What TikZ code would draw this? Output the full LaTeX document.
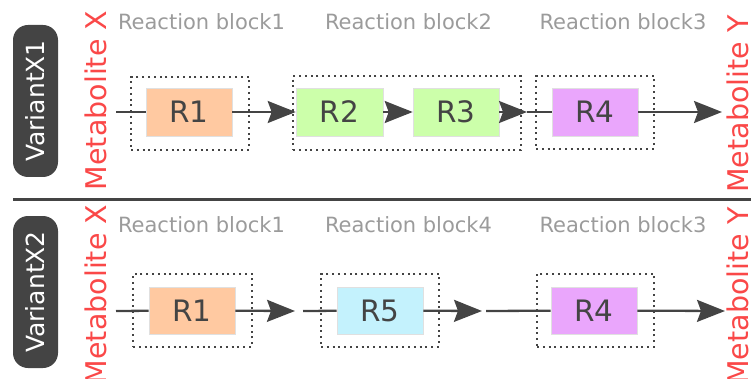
\documentclass[tikz,border=0pt]{standalone}
\usepackage{fontspec}
\setmainfont{DejaVu Sans}
\usetikzlibrary{arrows.meta}
\definecolor{dk}{HTML}{444444}
\definecolor{lbl}{RGB}{155,155,155}
\definecolor{metred}{RGB}{250,72,72}
\definecolor{peach}{RGB}{255,201,161}
\definecolor{lgreen}{RGB}{204,255,170}
\definecolor{violet4}{RGB}{234,166,252}
\definecolor{cyan5}{RGB}{196,242,253}
\tikzset{
  rbox/.style={draw=black!12, line width=0.6pt, minimum width=86pt, minimum height=48pt, inner sep=0pt, font=\fontsize{29.5}{31}\selectfont, text=dk},
  dotbox/.style={draw=dk, line width=2pt, dash pattern=on 2pt off 3.8pt, inner sep=0pt},
  flow/.style={draw=dk, line width=2.3pt},
  arr/.style={flow, -{Stealth[length=28pt,width=22pt,inset=4pt]}},
  blocklbl/.style={text=lbl, font=\fontsize{21}{23}\selectfont, anchor=base, inner sep=0pt},
  metab/.style={text=metred, font=\fontsize{28.5}{30}\selectfont, rotate=90, anchor=base, inner sep=0pt},
  pill/.style={fill=dk, text=white, rounded corners=15pt, rotate=90, minimum width=152pt, minimum height=45pt, inner sep=0pt, font=\fontsize{25}{27}\selectfont},
  sepline/.style={draw=dk, line width=3pt}
}
\begin{document}
\begin{tikzpicture}[x=1pt,y=-1pt]
\useasboundingbox (0,0) rectangle (751,379);

% separator
\coordinate (sepL) at (13,200);
\coordinate (sepR) at (751,200);
\draw[sepline] (sepL) -- (sepR);

% ---------- Variant 1 ----------
\node[pill] (v1) at (35.5,101) {VariantX1};
\node[metab] (mx1) at (106,100.5) {Metabolite X};
\node[metab] (my1) at (748.5,104) {Metabolite Y};

\node[blocklbl] (l11) at (201.5,29.3) {Reaction block1};
\node[blocklbl] (l12) at (408.5,29.3) {Reaction block2};
\node[blocklbl] (l13) at (623,29.3) {Reaction block3};

\node[dotbox, minimum width=118pt, minimum height=73pt] (b11) at (190,113.5) {};
\node[dotbox, minimum width=228pt, minimum height=74pt] (b12) at (407,113) {};
\node[dotbox, minimum width=118pt, minimum height=73pt] (b13) at (595,112.5) {};

\node[rbox, fill=peach] (r11) at (189,112) {R1};
\node[rbox, fill=lgreen, minimum width=87pt] (r12) at (339.5,112) {R2};
\node[rbox, fill=lgreen] (r13) at (456,112) {R3};
\node[rbox, fill=violet4] (r14) at (595,112) {R4};

\coordinate (s1) at (116,112);
\coordinate (t1) at (527,112);
\coordinate (e1) at (722,112);

\draw[flow] (s1) -- (r11);
\draw[arr] (r11) -- (r12);
\draw[arr] (r12) -- (r13);
\draw[arr] (r13) -- (t1);
\draw[flow] (t1) -- (r14);
\draw[arr] (r14) -- (e1);

% ---------- Variant 2 ----------
\node[pill] (v2) at (35.5,292) {VariantX2};
\node[metab] (mx2) at (106,294.5) {Metabolite X};
\node[metab] (my2) at (748.5,296) {Metabolite Y};

\node[blocklbl] (l21) at (201.5,232.7) {Reaction block1};
\node[blocklbl] (l24) at (408.5,232.7) {Reaction block4};
\node[blocklbl] (l23) at (623,232.7) {Reaction block3};

\node[dotbox, minimum width=119pt, minimum height=73pt] (b21) at (192.5,310.5) {};
\node[dotbox, minimum width=118pt, minimum height=73pt] (b24) at (380,310.5) {};
\node[dotbox, minimum width=117pt, minimum height=73pt] (b23) at (595.5,310.5) {};

\node[rbox, fill=peach, minimum height=47pt] (r21) at (192,310.5) {R1};
\node[rbox, fill=cyan5, minimum height=47pt] (r25) at (380,310.5) {R5};
\node[rbox, fill=violet4, minimum height=47pt] (r24) at (594,310.5) {R4};

\coordinate (s2) at (116,311);
\coordinate (m2a) at (295,311);
\coordinate (m2b) at (303,311);
\coordinate (m2c) at (482,311);
\coordinate (m2d) at (486,311);
\coordinate (e2) at (725,311);

\draw[flow] (s2) -- (r21);
\draw[arr] (r21) -- (m2a);
\draw[flow] (m2b) -- (r25);
\draw[arr] (r25) -- (m2c);
\draw[flow] (m2d) -- (r24);
\draw[arr] (r24) -- (e2);
\end{tikzpicture}
\end{document}
